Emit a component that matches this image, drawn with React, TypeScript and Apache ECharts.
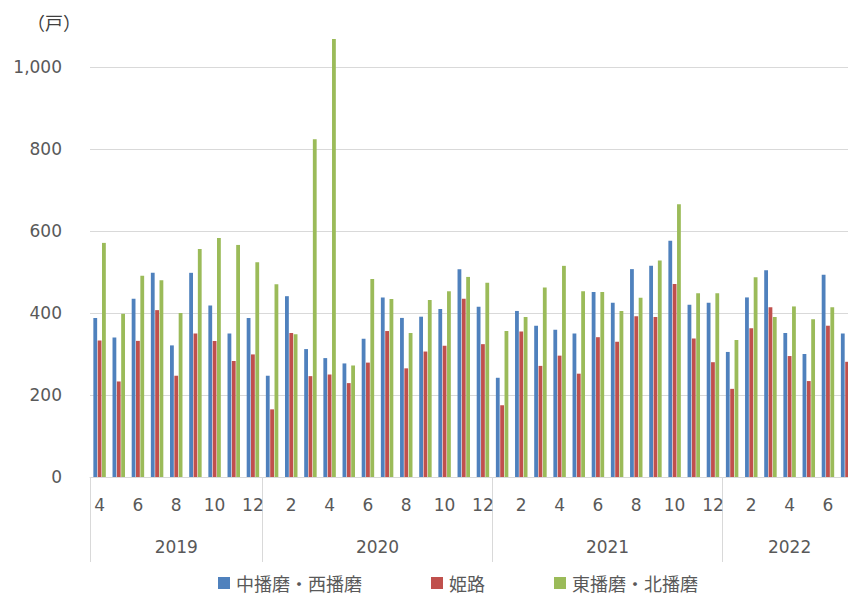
import React, { useEffect, useRef } from "react";
import * as echarts from "echarts";

const months: number[] = [
  4, 5, 6, 7, 8, 9, 10, 11, 12,
  1, 2, 3, 4, 5, 6, 7, 8, 9, 10, 11, 12,
  1, 2, 3, 4, 5, 6, 7, 8, 9, 10, 11, 12,
  1, 2, 3, 4, 5, 6, 7,
];
const years: string[] = ["2019", "2020", "2021", "2022"];
const yearStarts: number[] = [0, 9, 21, 33, 40];
const yearCenters: number[] = [4.5, 15, 27, 36.5];

const seriesNames: string[] = ["中播磨・西播磨", "姫路", "東播磨・北播磨"];
const nakaNishi: number[] = [
  388, 340, 435, 498, 321, 498, 418, 350, 388,
  247, 441, 312, 290, 277, 337, 438, 388, 391, 410, 507, 415,
  242, 405, 369, 359, 350, 451, 425, 507, 515, 576, 420, 425,
  305, 438, 504, 351, 300, 493, 350,
];
const himeji: number[] = [
  333, 233, 332, 407, 247, 350, 332, 283, 299,
  165, 351, 246, 250, 229, 279, 356, 265, 306, 320, 435, 324,
  175, 355, 271, 296, 252, 341, 330, 392, 390, 471, 338, 280,
  215, 363, 414, 295, 234, 369, 281,
];
const higashiKita: number[] = [
  571, 398, 491, 480, 400, 556, 583, 566, 524,
  470, 348, 824, 1068, 272, 483, 434, 351, 432, 453, 488, 474,
  356, 390, 462, 515, 453, 451, 405, 437, 528, 665, 448, 448,
  334, 487, 390, 416, 385, 414, 400,
];
const colors: string[] = ["#4f81bd", "#c0504d", "#9bbb59"];

export default function App() {
  const ref = useRef<HTMLDivElement>(null);
  useEffect(() => {
    if (!ref.current) return;
    const chart = echarts.init(ref.current, undefined, { renderer: "svg" });
    const font = "'DejaVu Sans', Verdana, sans-serif";
    const cjk = "'Noto Sans CJK JP', sans-serif";
    const data = [nakaNishi, himeji, higashiKita];
    chart.setOption({
      animation: false,
      color: colors,
      grid: { left: 90, right: 23.3, top: 67, bottom: 117, containLabel: false },
      legend: {
        left: 213,
        top: 567,
        itemWidth: 12,
        itemHeight: 12,
        itemGap: 69,
        icon: "rect",
        textStyle: { fontFamily: cjk, fontSize: 18, color: "#595959", padding: [0, 0, 0, 1], lineHeight: 22 },
        data: seriesNames,
      },
      graphic: [
        {
          type: "text",
          x: 54,
          y: 22,
          style: {
            text: "（戸）",
            font: `18px ${cjk}`,
            fill: "#404040",
            align: "center",
            verticalAlign: "middle",
          },
        },
      ],
      xAxis: [
        {
          type: "category",
          data: months.map(String),
          axisLine: { show: true, lineStyle: { color: "#d9d9d9", width: 1 } },
          axisTick: { show: false },
          axisLabel: {
            interval: (i: number) => months[i] % 2 === 0,
            margin: 19,
            fontFamily: font,
            fontSize: 17,
            color: "#595959",
            hideOverlap: false,
          },
          splitLine: { show: false },
        },
        {
          type: "value",
          position: "bottom",
          min: 0,
          max: 40,
          interval: 0.5,
          axisLine: { show: false },
          axisTick: {
            show: true,
            customValues: yearStarts,
            length: 85,
            lineStyle: { color: "#d9d9d9", width: 1 },
          },
          axisLabel: {
            customValues: yearCenters,
            margin: 61,
            fontFamily: font,
            fontSize: 17,
            color: "#595959",
            formatter: (v: number) => {
              const k = yearCenters.indexOf(v);
              return k >= 0 ? years[k] : "";
            },
          },
          splitLine: { show: false },
        },
      ],
      yAxis: {
        type: "value",
        min: 0,
        max: 1000,
        interval: 200,
        axisLine: { show: false },
        axisTick: { show: false },
        axisLabel: {
          margin: 28,
          fontFamily: font,
          fontSize: 17,
          color: "#595959",
          formatter: (v: number) => v.toLocaleString("en-US"),
        },
        splitLine: { show: true, lineStyle: { color: "#d9d9d9", width: 1 } },
      },
      series: seriesNames.map((name, k) => ({
        name,
        type: "bar",
        xAxisIndex: 0,
        clip: false,
        data: data[k],
        barWidth: 3.8,
        barGap: "14%",
        itemStyle: { color: colors[k] },
      })),
    });
    return () => chart.dispose();
  }, []);
  return (
    <div style={{ position: "absolute", left: 0, top: 0, width: 848, height: 594, overflow: "hidden", background: "#fff" }}>
      <div ref={ref} style={{ width: 880, height: 594 }} />
    </div>
  );
}
